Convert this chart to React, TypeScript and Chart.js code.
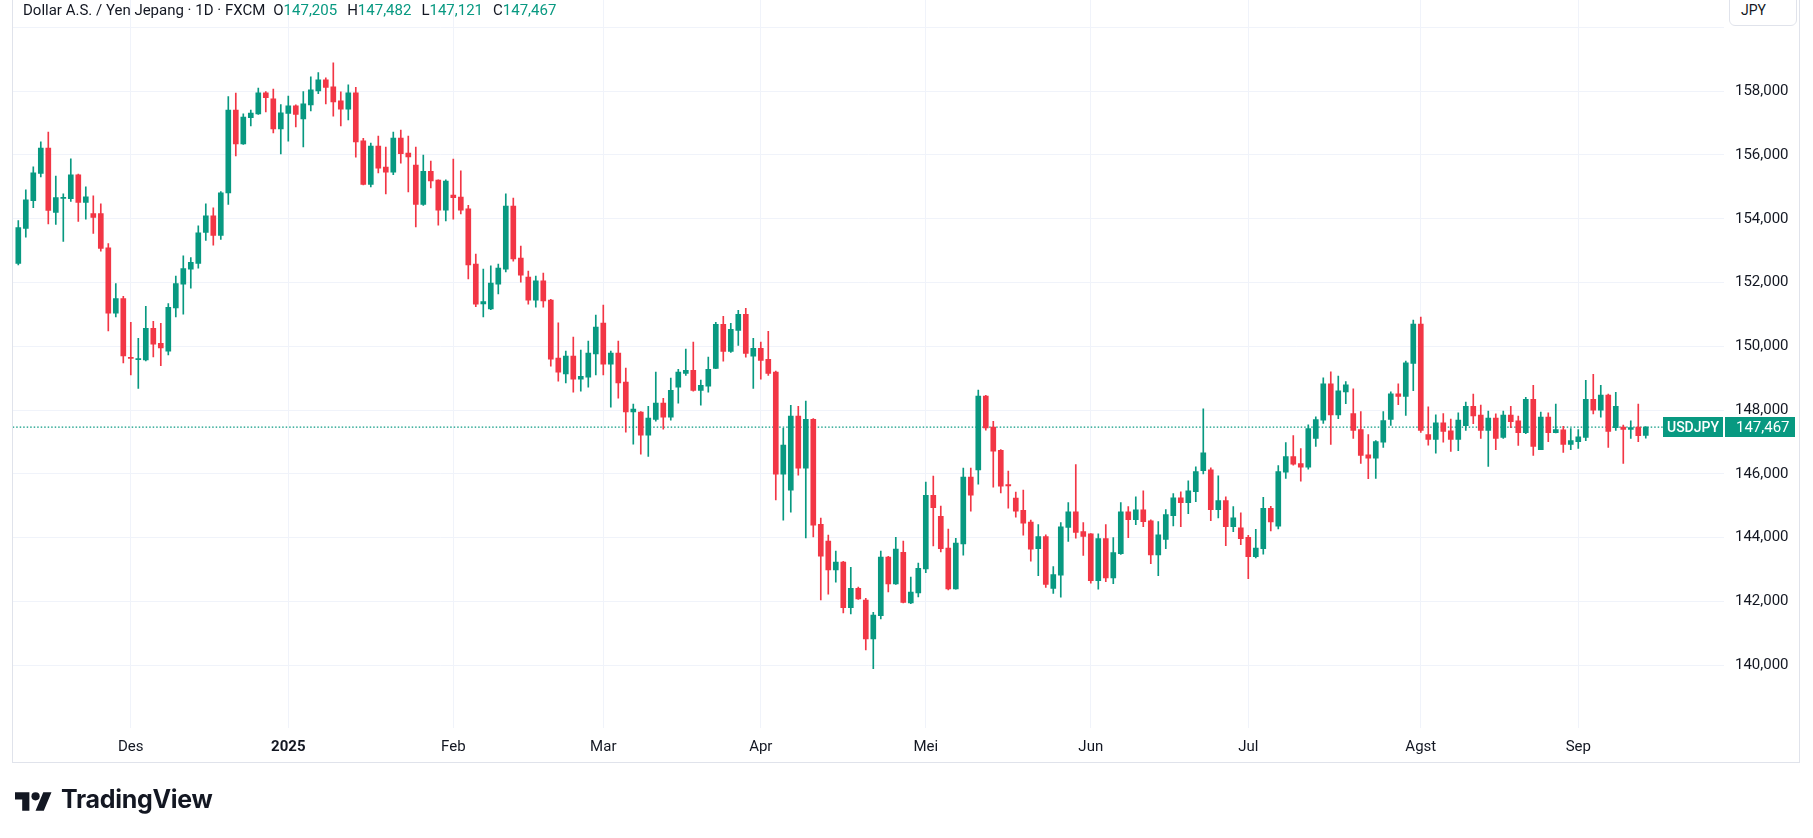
import React, { useEffect, useRef } from 'react';
import { Chart, registerables } from 'chart.js';

Chart.register(...registerables);

// Daily USD/JPY candles (FXCM)
const OPEN = [
  152.60, 153.70, 154.57, 155.42, 156.22, 154.20, 154.64, 154.63, 155.38, 154.51,
  154.16, 154.16, 153.09, 151.04, 151.50, 149.65, 149.58, 149.57, 150.56, 150.09,
  149.85, 151.20, 151.95, 152.42, 152.60, 153.57, 154.09, 153.48, 154.81, 157.41,
  156.35, 157.17, 157.29, 157.95, 157.76, 156.82, 157.30, 157.54, 157.13, 157.57,
  158.01, 158.36, 158.14, 157.70, 157.44, 157.95, 156.44, 155.08, 156.28, 155.62,
  155.46, 156.53, 156.06, 155.68, 154.45, 155.49, 155.21, 154.27, 154.74, 154.68,
  154.31, 152.58, 151.33, 151.17, 151.95, 152.42, 154.40, 152.77, 152.17, 151.45,
  152.05, 151.45, 149.63, 149.13, 149.69, 148.97, 149.03, 149.76, 150.73, 149.44,
  149.79, 148.88, 147.94, 147.94, 147.21, 147.71, 148.22, 147.78, 148.72, 149.15,
  149.25, 148.62, 148.75, 149.31, 150.69, 149.84, 150.50, 151.00, 149.69, 149.94,
  149.59, 149.19, 145.99, 145.49, 147.81, 146.18, 147.71, 144.42, 143.89, 142.99,
  143.23, 141.80, 142.41, 142.04, 140.82, 141.55, 143.39, 142.55, 143.54, 141.95,
  142.27, 143.02, 145.33, 144.67, 143.67, 142.39, 143.80, 145.90, 146.12, 148.44,
  147.47, 146.74, 145.66, 145.24, 144.86, 144.49, 143.65, 144.03, 142.41, 142.82,
  144.32, 144.81, 144.19, 144.12, 142.65, 143.97, 142.74, 143.50, 144.81, 144.56,
  144.87, 144.53, 143.46, 143.94, 144.69, 145.25, 145.10, 145.44, 146.10, 146.13,
  144.88, 145.16, 144.34, 144.31, 144.01, 143.40, 143.65, 144.92, 144.36, 146.05,
  146.54, 146.32, 146.21, 147.11, 147.68, 148.82, 147.85, 148.57, 147.89, 147.39,
  146.60, 146.49, 146.99, 147.71, 148.51, 148.43, 149.46, 150.70, 147.23, 147.08,
  147.60, 147.35, 147.08, 147.51, 148.12, 147.84, 147.36, 147.75, 147.14, 147.84,
  147.66, 147.29, 148.34, 146.76, 147.78, 147.29, 147.38, 146.92, 147.01, 147.14,
  148.34, 148.00, 148.47, 147.45, 147.47, 147.39, 147.47, 147.205,
];
const HIGH = [
  153.94, 154.91, 155.63, 156.41, 156.72, 155.34, 154.78, 155.88, 155.40, 155.00,
  154.72, 154.47, 153.22, 151.97, 151.57, 150.75, 150.25, 151.25, 150.78, 150.72,
  151.34, 152.20, 152.84, 152.78, 153.78, 154.47, 154.34, 154.85, 157.83, 157.94,
  157.29, 157.41, 158.10, 157.99, 158.07, 157.58, 157.85, 157.57, 157.99, 158.45,
  158.58, 158.42, 158.89, 157.98, 158.20, 158.12, 156.52, 156.37, 156.59, 156.25,
  156.72, 156.78, 156.59, 156.25, 156.00, 155.81, 155.22, 155.22, 155.87, 155.50,
  154.42, 152.89, 152.42, 152.52, 152.58, 154.78, 154.65, 153.14, 152.36, 152.20,
  152.30, 151.47, 150.74, 149.85, 150.29, 149.88, 150.16, 150.98, 151.29, 149.85,
  150.16, 149.32, 148.19, 147.95, 148.12, 149.19, 148.37, 149.00, 149.28, 149.91,
  150.13, 148.94, 149.66, 150.75, 150.94, 150.72, 151.13, 151.19, 150.25, 150.13,
  150.47, 149.22, 147.43, 148.15, 148.12, 148.28, 147.73, 144.61, 144.08, 143.58,
  143.26, 143.07, 142.45, 142.10, 141.66, 143.58, 143.41, 144.01, 143.89, 142.76,
  143.20, 145.74, 145.93, 144.99, 144.27, 143.98, 146.18, 146.18, 148.63, 148.46,
  147.65, 146.76, 146.09, 145.43, 145.49, 144.55, 144.41, 144.09, 143.09, 144.47,
  145.10, 146.29, 144.47, 144.13, 144.12, 144.41, 144.00, 145.10, 144.97, 145.28,
  145.47, 144.56, 144.50, 144.88, 145.38, 145.44, 145.78, 146.22, 148.04, 146.19,
  145.94, 145.28, 144.97, 144.78, 144.07, 144.26, 145.26, 144.98, 146.26, 146.98,
  147.20, 146.79, 147.54, 147.79, 149.01, 149.20, 149.07, 148.89, 148.67, 147.95,
  147.23, 147.04, 147.95, 148.57, 148.82, 149.54, 150.82, 150.92, 148.10, 147.85,
  147.89, 147.72, 147.91, 148.25, 148.50, 148.16, 147.97, 147.88, 147.97, 148.12,
  147.81, 148.40, 148.78, 147.94, 147.91, 148.19, 147.49, 147.42, 147.39, 148.93,
  149.12, 148.78, 148.50, 148.56, 147.53, 147.66, 148.19, 147.482,
];
const LOW = [
  152.55, 153.42, 154.35, 155.31, 153.84, 153.82, 153.29, 154.54, 153.92, 153.99,
  153.54, 152.98, 150.48, 150.92, 149.48, 149.10, 148.68, 149.54, 149.67, 149.39,
  149.73, 150.92, 151.01, 151.82, 152.45, 153.32, 153.17, 153.35, 154.45, 155.97,
  156.33, 156.91, 157.27, 157.35, 156.69, 156.03, 156.43, 156.88, 156.25, 157.38,
  157.92, 157.60, 157.22, 156.91, 157.10, 155.93, 155.06, 155.00, 155.44, 154.78,
  155.38, 155.74, 154.84, 153.74, 154.42, 154.97, 153.80, 153.93, 153.99, 154.15,
  152.11, 151.24, 150.92, 151.15, 151.64, 152.33, 152.67, 152.01, 151.32, 151.23,
  151.23, 149.38, 148.91, 148.85, 148.56, 148.59, 148.72, 149.10, 149.10, 148.09,
  148.37, 147.31, 146.93, 146.62, 146.55, 147.65, 147.40, 147.68, 148.22, 149.09,
  148.59, 148.15, 148.56, 149.30, 149.53, 149.81, 150.03, 149.66, 148.68, 148.97,
  149.09, 145.18, 144.55, 144.80, 145.96, 143.99, 144.02, 142.05, 142.23, 142.60,
  141.64, 141.61, 142.06, 140.48, 139.89, 141.45, 142.30, 142.53, 141.95, 141.93,
  142.14, 142.90, 143.74, 143.55, 142.36, 142.38, 143.45, 144.83, 145.68, 147.37,
  145.58, 145.40, 144.92, 144.64, 144.08, 143.26, 142.81, 142.44, 142.25, 142.13,
  143.88, 143.98, 143.44, 142.57, 142.38, 142.62, 142.56, 143.47, 144.00, 144.41,
  144.34, 143.18, 142.81, 143.65, 144.37, 144.34, 144.75, 145.13, 146.00, 144.53,
  144.62, 143.75, 144.19, 143.78, 142.71, 143.36, 143.48, 144.21, 144.27, 145.86,
  146.27, 145.77, 146.15, 146.86, 147.58, 146.92, 147.73, 148.20, 147.11, 146.33,
  145.85, 145.86, 146.83, 147.52, 148.17, 147.83, 148.61, 147.30, 146.90, 146.65,
  146.99, 146.70, 146.73, 147.36, 147.57, 147.11, 146.23, 146.76, 147.11, 147.45,
  146.89, 147.26, 146.58, 146.76, 147.01, 147.28, 146.67, 146.76, 146.80, 147.04,
  147.88, 147.78, 146.83, 147.36, 146.33, 147.11, 147.01, 147.121,
];
const CLOSE = [
  153.72, 154.59, 155.44, 156.22, 154.26, 154.66, 154.66, 155.38, 154.51, 154.69,
  154.04, 153.07, 151.04, 151.50, 149.70, 149.62, 149.61, 150.56, 150.07, 149.95,
  151.22, 151.97, 152.44, 152.63, 153.56, 154.09, 153.48, 154.81, 157.41, 156.35,
  157.19, 157.31, 157.95, 157.80, 156.82, 157.32, 157.54, 157.27, 157.60, 158.04,
  158.36, 158.12, 157.66, 157.44, 157.95, 156.41, 155.08, 156.28, 155.59, 155.46,
  156.53, 156.04, 155.94, 154.45, 155.49, 155.19, 154.27, 155.18, 154.66, 154.27,
  152.55, 151.32, 151.40, 151.98, 152.45, 154.40, 152.74, 152.23, 151.45, 152.05,
  151.42, 149.60, 149.19, 149.69, 148.97, 149.06, 149.79, 150.60, 149.44, 149.79,
  148.85, 147.94, 148.03, 147.21, 147.75, 148.22, 147.78, 148.62, 149.19, 149.25,
  148.62, 148.78, 149.28, 150.69, 149.84, 150.53, 151.00, 149.78, 149.94, 149.56,
  149.15, 145.99, 146.90, 147.81, 146.18, 147.71, 144.39, 143.42, 142.99, 143.23,
  141.80, 142.41, 142.08, 140.82, 141.57, 143.39, 142.55, 143.64, 141.97, 142.29,
  143.04, 145.33, 144.94, 143.65, 142.39, 143.83, 145.90, 145.33, 148.44, 147.44,
  146.71, 145.61, 145.62, 144.83, 144.45, 143.64, 144.03, 142.53, 142.84, 144.34,
  144.81, 144.16, 144.04, 142.65, 143.97, 142.74, 143.53, 144.81, 144.56, 144.87,
  144.50, 143.46, 144.09, 144.72, 145.25, 145.10, 145.47, 146.07, 146.66, 144.88,
  145.16, 144.34, 144.62, 143.97, 143.40, 143.67, 144.92, 144.49, 146.07, 146.54,
  146.30, 146.21, 147.42, 147.70, 148.82, 147.85, 148.60, 148.79, 147.36, 146.58,
  146.49, 147.01, 147.67, 148.51, 148.43, 149.48, 150.70, 147.36, 147.08, 147.60,
  147.33, 147.08, 147.69, 148.12, 147.82, 147.36, 147.75, 147.11, 147.84, 147.64,
  147.29, 148.34, 146.86, 147.78, 147.29, 147.39, 146.92, 147.04, 147.16, 148.34,
  148.00, 148.47, 147.33, 148.12, 147.39, 147.45, 147.20, 147.467,
];

// Time axis: bar index of the first trading day of each month, and its label
const MONTH_INDEX = [15, 36, 58, 78, 99, 121, 143, 164, 187, 208];
const MONTH_LABELS = ['Des', '2025', 'Feb', 'Mar', 'Apr', 'Mei', 'Jun', 'Jul', 'Agst', 'Sep'];
const YEAR_INDEX = 36;

// Price axis
const PRICE_TICKS = [140, 142, 144, 146, 148, 150, 152, 154, 156, 158, 160];

const TITLE = 'Dollar A.S. / Yen Jepang · 1D · FXCM';
const SYMBOL = 'USDJPY';
const CURRENCY = 'JPY';

const UP = '#089981';
const DOWN = '#F23645';
const TEXT = '#131722';
const GRID = '#f0f3fa';
const FONT = 'Roboto, "Open Sans", sans-serif';

const W = 1813;
const H = 838;

const fmt = (v: number) => v.toFixed(3).replace('.', ',');

export default function App() {
  const canvasRef = useRef<HTMLCanvasElement>(null);

  useEffect(() => {
    const canvas = canvasRef.current;
    if (!canvas) return;
    const n = OPEN.length;
    const colors = OPEN.map((o, i) => (CLOSE[i] >= o ? UP : DOWN));
    const last = CLOSE[n - 1];
    const xMin = -0.747;
    const xMax = 227.43;

    const lastPricePlugin = {
      id: 'lastPrice',
      afterDraw(chart: any) {
        const y = Math.round(chart.scales.y.getPixelForValue(last));
        const right = chart.chartArea.right;
        const ctx = chart.ctx;
        ctx.save();
        ctx.fillStyle = UP;
        ctx.fillRect(right - 61, y - 10, 60, 20);
        ctx.fillRect(right + 1, y - 10, 70, 20);
        ctx.fillStyle = '#ffffff';
        ctx.textBaseline = 'middle';
        ctx.font = `500 14px ${FONT}`;
        ctx.textAlign = 'center';
        ctx.fillText(SYMBOL, right - 31, y + 1);
        ctx.font = `15px ${FONT}`;
        ctx.textAlign = 'left';
        ctx.fillText(fmt(last), right + 12, y + 1);
        ctx.restore();
      },
    };

    const chart = new Chart(canvas, {
      type: 'bar',
      data: {
        datasets: [
          {
            type: 'line',
            data: [
              { x: xMin, y: last },
              { x: xMax, y: last },
            ],
            borderColor: UP,
            borderWidth: 1.2,
            borderDash: [1.5, 2],
            pointRadius: 0,
            order: 3,
          } as any,
          {
            type: 'bar',
            data: OPEN.map((_, i) => ({ x: i, y: [LOW[i], HIGH[i]] })),
            backgroundColor: colors,
            barThickness: 1,
            grouped: false,
            borderWidth: 0,
            order: 2,
          } as any,
          {
            type: 'bar',
            data: OPEN.map((o, i) => ({ x: i, y: [o, CLOSE[i]] })),
            backgroundColor: colors,
            barThickness: 5,
            minBarLength: 1,
            grouped: false,
            borderWidth: 0,
            order: 1,
          } as any,
        ],
      },
      options: {
        animation: false,
        responsive: false,
        devicePixelRatio: 1,
        layout: { padding: { left: 12.7, right: 13, top: 0, bottom: 75 } },
        plugins: {
          legend: { display: false },
          tooltip: { enabled: false },
        },
        scales: {
          x: {
            type: 'linear',
            min: xMin,
            max: xMax,
            offset: false,
            afterBuildTicks: (scale: any) => {
              scale.ticks = MONTH_INDEX.map((v) => ({ value: v }));
            },
            afterFit: (scale: any) => {
              scale.height = 35;
              scale.paddingLeft = 0;
              scale.paddingRight = 0;
              scale.paddingTop = 0;
              scale.paddingBottom = 0;
            },
            grid: { color: GRID, drawTicks: false, offset: false },
            border: { display: false },
            ticks: {
              autoSkip: false,
              maxRotation: 0,
              padding: 10,
              color: TEXT,
              font: (ctx: any) => ({
                family: FONT,
                size: 15,
                weight: ctx.tick && ctx.tick.value === YEAR_INDEX ? 'bold' : 'normal',
              }),
              callback: (v: any) => {
                const k = MONTH_INDEX.indexOf(Number(v));
                return k >= 0 ? MONTH_LABELS[k] : '';
              },
            },
          },
          y: {
            type: 'linear',
            position: 'right',
            min: 138.03,
            max: 160.86,
            afterBuildTicks: (scale: any) => {
              scale.ticks = PRICE_TICKS.map((v) => ({ value: v }));
            },
            afterFit: (scale: any) => {
              scale.width = 76;
              scale.paddingLeft = 0;
              scale.paddingRight = 0;
              scale.paddingTop = 0;
              scale.paddingBottom = 0;
            },
            grid: { color: GRID, drawTicks: false },
            border: { display: false },
            ticks: {
              padding: 11,
              color: TEXT,
              font: { family: FONT, size: 15 },
              callback: (v: any) => (Number(v) >= 160 ? '' : fmt(Number(v))),
            },
          },
        },
      },
      plugins: [lastPricePlugin],
    } as any);

    return () => chart.destroy();
  }, []);

  const o = OPEN[OPEN.length - 1];
  const h = HIGH[HIGH.length - 1];
  const l = LOW[LOW.length - 1];
  const c = CLOSE[CLOSE.length - 1];
  const hdrColor = c >= o ? UP : DOWN;

  return (
    <div
      style={{
        position: 'fixed',
        left: 0,
        top: 0,
        width: W,
        height: H,
        background: '#ffffff',
        overflow: 'hidden',
        fontFamily: FONT,
      }}
    >
      <canvas ref={canvasRef} width={W} height={H} style={{ position: 'absolute', left: 0, top: 0, width: W, height: H }} />
      {/* chart frame */}
      <div
        style={{
          position: 'absolute',
          left: 12,
          top: -1,
          width: 1788,
          height: 764,
          border: '1px solid #e0e3eb',
          boxSizing: 'border-box',
          pointerEvents: 'none',
        }}
      />
      {/* legend header */}
      <div
        style={{
          position: 'absolute',
          left: 23,
          top: 1,
          fontSize: 15,
          lineHeight: '18px',
          color: TEXT,
          whiteSpace: 'nowrap',
        }}
      >
        <span>{TITLE}</span>
        <span style={{ marginLeft: 8 }}>O<span style={{ color: hdrColor }}>{fmt(o)}</span></span>
        <span style={{ marginLeft: 10 }}>H<span style={{ color: hdrColor }}>{fmt(h)}</span></span>
        <span style={{ marginLeft: 10 }}>L<span style={{ color: hdrColor }}>{fmt(l)}</span></span>
        <span style={{ marginLeft: 10 }}>C<span style={{ color: hdrColor }}>{fmt(c)}</span></span>
      </div>
      {/* currency button */}
      <div
        style={{
          position: 'absolute',
          left: 1729,
          top: -10,
          width: 68,
          height: 36,
          border: '1px solid #e0e3eb',
          borderRadius: 6,
          background: '#ffffff',
          boxSizing: 'border-box',
          color: TEXT,
          fontSize: 14,
          lineHeight: '18px',
          paddingTop: 10,
          paddingLeft: 11,
        }}
      >
        {CURRENCY}
      </div>
      {/* TradingView logo */}
      <svg
        width={37}
        height={29}
        viewBox="0 0 36 28"
        style={{ position: 'absolute', left: 15, top: 787.5 }}
      >
        <path d="M14 22H7V11H0V4h14v18zM28 22h-8l7.5-18h8L28 22z" fill={TEXT} />
        <circle cx="20" cy="8" r="4" fill={TEXT} />
      </svg>
      <div
        style={{
          position: 'absolute',
          left: 61,
          top: 784,
          fontFamily: 'Inter, Roboto, sans-serif',
          fontWeight: 700,
          fontSize: 25,
          lineHeight: '30px',
          letterSpacing: -0.3,
          color: TEXT,
          whiteSpace: 'nowrap',
        }}
      >
        TradingView
      </div>
    </div>
  );
}
